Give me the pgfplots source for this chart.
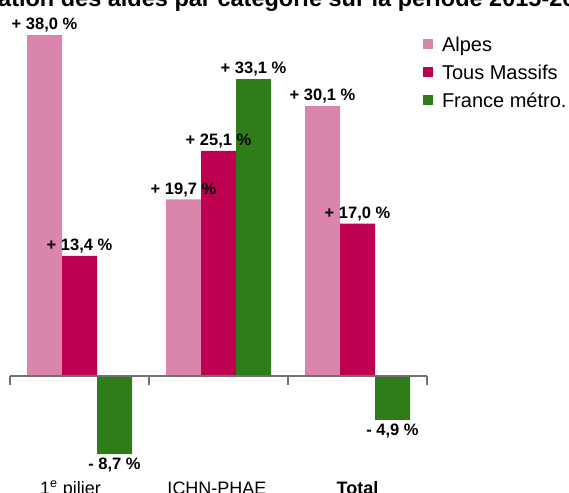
\documentclass[border=0pt]{standalone}
\usepackage{fontspec}
\setmainfont{Liberation Sans}
\usepackage{pgfplots}
\pgfplotsset{compat=1.18}
\definecolor{alpes}{HTML}{DA85AC}
\definecolor{massifs}{HTML}{BE0050}
\definecolor{france}{HTML}{2E7D18}
\definecolor{axisgray}{HTML}{707070}
\begin{document}
\begin{tikzpicture}
\useasboundingbox (0,0) rectangle (569pt,492pt);
\clip (0,0) rectangle (569pt,492pt);
\node[anchor=base west, inner sep=0pt, font=\bfseries\fontsize{23.5}{23.5}\selectfont] at (-2pt,485pt) {\llap{Évolu}ation des aides par catégorie sur la période 2015-2020};
\begin{axis}[
  at={(10pt,26.3pt)}, anchor=south west,
  scale only axis, width=417pt, height=448.5pt,
  xmin=-0.5, xmax=2.5, ymin=-10, ymax=40,
  enlargelimits=false,
  axis lines=none,
  clip=false,
  ybar=0pt, bar width=35pt,
  nodes near coords,
  point meta=explicit symbolic,
  visualization depends on={rawy \as \rawy},
  every node near coord/.append style={font=\bfseries\fontsize{16.5}{16.5}\selectfont, inner sep=2.5pt, text=black},
  every node near coord/.append code={\ifdim\rawy pt<0pt\pgfkeysalso{anchor=north, inner sep=4pt}\else\pgfkeysalso{anchor=south}\fi},
  legend style={at={(axis description cs:0.9904,0.955)}, anchor=north west,
    draw=none, fill=none, inner sep=0pt, outer sep=0pt,
    font=\fontsize{20}{20}\selectfont, row sep=10pt,
    nodes={inner sep=0pt, text height=14.5pt, text depth=3.5pt},
    /tikz/every odd column/.append style={column sep=9pt}},
  legend cell align=left,
  legend image code/.code={\fill[#1, draw=none] (0pt,-3pt) rectangle (10pt,7pt);},
]
\addplot[fill=alpes, draw=none] coordinates {(0,38.0) [+ 38,0 \%] (1,19.7) [+ 19,7 \%] (2,30.1) [+ 30,1 \%]};
\addplot[fill=massifs, draw=none] coordinates {(0,13.4) [+ 13,4 \%] (1,25.1) [+ 25,1 \%] (2,17.0) [+ 17,0 \%]};
\addplot[fill=france, draw=none] coordinates {(0,-8.7) [- 8,7 \%] (1,33.1) [+ 33,1 \%] (2,-4.9) [- 4,9 \%]};
\legend{Alpes, Tous Massifs, France métro.}
\draw[line width=1.3pt, axisgray] (axis cs:-0.5,0) -- (axis cs:2.5,0);
\draw[line width=1.3pt, axisgray] (axis cs:-0.5,0) -- (axis cs:-0.5,-1.0);
\draw[line width=1.3pt, axisgray] (axis cs:0.5,0) -- (axis cs:0.5,-1.0);
\draw[line width=1.3pt, axisgray] (axis cs:1.5,0) -- (axis cs:1.5,-1.0);
\draw[line width=1.3pt, axisgray] (axis cs:2.5,0) -- (axis cs:2.5,-1.0);
\node[anchor=base, inner sep=0pt, xshift=-9pt, yshift=-28.3pt, font=\fontsize{18}{18}\selectfont] at (axis cs:0,-10) {1\textsuperscript{e} pilier};
\node[anchor=base, inner sep=0pt, xshift=-1.5pt, yshift=-28.3pt, font=\fontsize{18}{18}\selectfont] at (axis cs:1,-10) {ICHN-PHAE};
\node[anchor=base, inner sep=0pt, yshift=-28.3pt, font=\bfseries\fontsize{18}{18}\selectfont] at (axis cs:2,-10) {Total};
\end{axis}
\end{tikzpicture}
\end{document}
